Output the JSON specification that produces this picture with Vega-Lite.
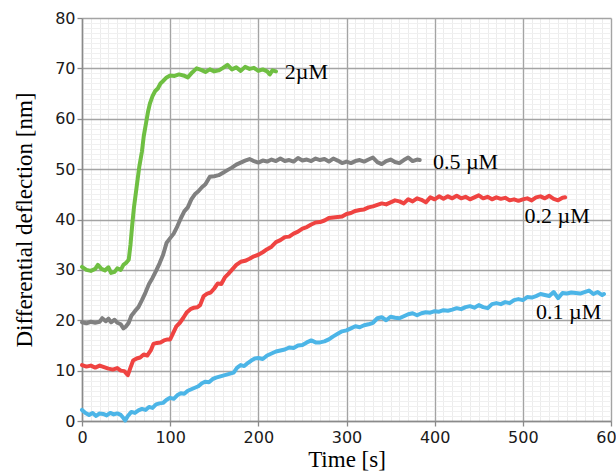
{
  "$schema": "https://vega.github.io/schema/vega-lite/v6.json",
  "width": 529,
  "height": 403,
  "autosize": {"type": "none"},
  "padding": {"left": 82, "top": 18, "right": 5, "bottom": 50},
  "background": "white",
  "config": {"view": {"stroke": null}},
  "datasets": {
    "curves": [
      {"s":"2µM","t":0,"v":30.6},{"s":"2µM","t":5,"v":30.0},{"s":"2µM","t":10,"v":29.8},{"s":"2µM","t":15,"v":30.2},{"s":"2µM","t":18,"v":31.0},{"s":"2µM","t":22,"v":30.2},{"s":"2µM","t":26,"v":29.9},{"s":"2µM","t":30,"v":30.5},{"s":"2µM","t":33,"v":29.4},{"s":"2µM","t":37,"v":29.6},{"s":"2µM","t":40,"v":30.3},{"s":"2µM","t":44,"v":30.0},{"s":"2µM","t":47,"v":31.0},{"s":"2µM","t":50,"v":31.4},{"s":"2µM","t":53,"v":32.0},{"s":"2µM","t":55,"v":35.0},{"s":"2µM","t":57,"v":39.0},{"s":"2µM","t":59,"v":42.5},{"s":"2µM","t":62,"v":46.5},{"s":"2µM","t":65,"v":50.5},{"s":"2µM","t":68,"v":53.5},{"s":"2µM","t":70,"v":56.5},{"s":"2µM","t":73,"v":59.5},{"s":"2µM","t":75,"v":61.5},{"s":"2µM","t":77,"v":63.0},{"s":"2µM","t":80,"v":64.5},{"s":"2µM","t":83,"v":65.5},{"s":"2µM","t":86,"v":66.0},{"s":"2µM","t":89,"v":67.0},{"s":"2µM","t":92,"v":67.5},{"s":"2µM","t":96,"v":68.2},{"s":"2µM","t":100,"v":68.6},{"s":"2µM","t":105,"v":68.5},{"s":"2µM","t":110,"v":68.8},{"s":"2µM","t":115,"v":68.6},{"s":"2µM","t":120,"v":68.2},{"s":"2µM","t":125,"v":69.2},{"s":"2µM","t":130,"v":70.0},{"s":"2µM","t":135,"v":69.7},{"s":"2µM","t":140,"v":69.3},{"s":"2µM","t":145,"v":69.8},{"s":"2µM","t":150,"v":69.4},{"s":"2µM","t":155,"v":69.6},{"s":"2µM","t":160,"v":70.1},{"s":"2µM","t":165,"v":70.7},{"s":"2µM","t":170,"v":69.8},{"s":"2µM","t":175,"v":70.2},{"s":"2µM","t":180,"v":69.5},{"s":"2µM","t":185,"v":70.3},{"s":"2µM","t":190,"v":69.9},{"s":"2µM","t":195,"v":70.1},{"s":"2µM","t":200,"v":69.5},{"s":"2µM","t":205,"v":69.8},{"s":"2µM","t":210,"v":69.4},{"s":"2µM","t":213,"v":68.8},{"s":"2µM","t":216,"v":69.6},{"s":"2µM","t":220,"v":69.4},
      {"s":"0.5 µM","t":0,"v":19.6},{"s":"0.5 µM","t":5,"v":19.4},{"s":"0.5 µM","t":10,"v":19.7},{"s":"0.5 µM","t":15,"v":19.5},{"s":"0.5 µM","t":20,"v":19.7},{"s":"0.5 µM","t":23,"v":20.4},{"s":"0.5 µM","t":27,"v":19.8},{"s":"0.5 µM","t":30,"v":20.3},{"s":"0.5 µM","t":33,"v":19.6},{"s":"0.5 µM","t":37,"v":20.1},{"s":"0.5 µM","t":40,"v":19.5},{"s":"0.5 µM","t":44,"v":19.2},{"s":"0.5 µM","t":47,"v":18.4},{"s":"0.5 µM","t":50,"v":18.8},{"s":"0.5 µM","t":53,"v":19.5},{"s":"0.5 µM","t":56,"v":20.9},{"s":"0.5 µM","t":60,"v":21.8},{"s":"0.5 µM","t":64,"v":22.6},{"s":"0.5 µM","t":68,"v":24.0},{"s":"0.5 µM","t":72,"v":25.5},{"s":"0.5 µM","t":76,"v":27.2},{"s":"0.5 µM","t":80,"v":28.4},{"s":"0.5 µM","t":84,"v":29.8},{"s":"0.5 µM","t":88,"v":31.3},{"s":"0.5 µM","t":92,"v":33.0},{"s":"0.5 µM","t":96,"v":35.4},{"s":"0.5 µM","t":100,"v":36.3},{"s":"0.5 µM","t":104,"v":37.2},{"s":"0.5 µM","t":108,"v":38.6},{"s":"0.5 µM","t":112,"v":40.2},{"s":"0.5 µM","t":116,"v":41.6},{"s":"0.5 µM","t":120,"v":42.4},{"s":"0.5 µM","t":124,"v":44.0},{"s":"0.5 µM","t":128,"v":45.0},{"s":"0.5 µM","t":132,"v":45.6},{"s":"0.5 µM","t":136,"v":46.4},{"s":"0.5 µM","t":140,"v":47.0},{"s":"0.5 µM","t":145,"v":48.5},{"s":"0.5 µM","t":150,"v":48.6},{"s":"0.5 µM","t":155,"v":48.8},{"s":"0.5 µM","t":160,"v":49.3},{"s":"0.5 µM","t":165,"v":49.8},{"s":"0.5 µM","t":170,"v":50.3},{"s":"0.5 µM","t":175,"v":50.9},{"s":"0.5 µM","t":180,"v":51.3},{"s":"0.5 µM","t":185,"v":51.7},{"s":"0.5 µM","t":190,"v":52.0},{"s":"0.5 µM","t":195,"v":51.6},{"s":"0.5 µM","t":200,"v":51.3},{"s":"0.5 µM","t":205,"v":51.7},{"s":"0.5 µM","t":210,"v":51.5},{"s":"0.5 µM","t":215,"v":51.9},{"s":"0.5 µM","t":220,"v":51.6},{"s":"0.5 µM","t":225,"v":52.1},{"s":"0.5 µM","t":230,"v":51.6},{"s":"0.5 µM","t":235,"v":51.8},{"s":"0.5 µM","t":240,"v":51.5},{"s":"0.5 µM","t":245,"v":52.2},{"s":"0.5 µM","t":250,"v":51.7},{"s":"0.5 µM","t":255,"v":51.9},{"s":"0.5 µM","t":260,"v":51.6},{"s":"0.5 µM","t":265,"v":52.1},{"s":"0.5 µM","t":270,"v":51.8},{"s":"0.5 µM","t":275,"v":52.0},{"s":"0.5 µM","t":280,"v":51.5},{"s":"0.5 µM","t":285,"v":52.1},{"s":"0.5 µM","t":290,"v":51.7},{"s":"0.5 µM","t":295,"v":51.2},{"s":"0.5 µM","t":300,"v":51.5},{"s":"0.5 µM","t":305,"v":51.2},{"s":"0.5 µM","t":310,"v":51.6},{"s":"0.5 µM","t":315,"v":51.8},{"s":"0.5 µM","t":320,"v":51.5},{"s":"0.5 µM","t":325,"v":51.9},{"s":"0.5 µM","t":330,"v":52.3},{"s":"0.5 µM","t":335,"v":51.4},{"s":"0.5 µM","t":340,"v":51.0},{"s":"0.5 µM","t":345,"v":51.6},{"s":"0.5 µM","t":350,"v":51.9},{"s":"0.5 µM","t":355,"v":51.4},{"s":"0.5 µM","t":360,"v":51.2},{"s":"0.5 µM","t":365,"v":51.8},{"s":"0.5 µM","t":370,"v":52.3},{"s":"0.5 µM","t":375,"v":51.6},{"s":"0.5 µM","t":380,"v":51.9},{"s":"0.5 µM","t":383,"v":51.8},
      {"s":"0.2 µM","t":0,"v":11.1},{"s":"0.2 µM","t":5,"v":10.8},{"s":"0.2 µM","t":10,"v":11.0},{"s":"0.2 µM","t":15,"v":10.6},{"s":"0.2 µM","t":20,"v":11.0},{"s":"0.2 µM","t":25,"v":10.7},{"s":"0.2 µM","t":30,"v":10.4},{"s":"0.2 µM","t":35,"v":10.2},{"s":"0.2 µM","t":40,"v":10.5},{"s":"0.2 µM","t":44,"v":10.0},{"s":"0.2 µM","t":48,"v":9.9},{"s":"0.2 µM","t":52,"v":9.1},{"s":"0.2 µM","t":55,"v":10.6},{"s":"0.2 µM","t":58,"v":12.0},{"s":"0.2 µM","t":62,"v":12.4},{"s":"0.2 µM","t":66,"v":12.6},{"s":"0.2 µM","t":70,"v":13.2},{"s":"0.2 µM","t":74,"v":13.0},{"s":"0.2 µM","t":78,"v":14.0},{"s":"0.2 µM","t":81,"v":15.3},{"s":"0.2 µM","t":85,"v":15.5},{"s":"0.2 µM","t":89,"v":15.6},{"s":"0.2 µM","t":93,"v":16.0},{"s":"0.2 µM","t":97,"v":16.2},{"s":"0.2 µM","t":100,"v":16.2},{"s":"0.2 µM","t":103,"v":17.3},{"s":"0.2 µM","t":107,"v":18.8},{"s":"0.2 µM","t":111,"v":19.5},{"s":"0.2 µM","t":115,"v":20.5},{"s":"0.2 µM","t":119,"v":21.6},{"s":"0.2 µM","t":123,"v":22.2},{"s":"0.2 µM","t":127,"v":22.5},{"s":"0.2 µM","t":131,"v":22.6},{"s":"0.2 µM","t":134,"v":23.0},{"s":"0.2 µM","t":138,"v":24.8},{"s":"0.2 µM","t":142,"v":25.3},{"s":"0.2 µM","t":146,"v":25.5},{"s":"0.2 µM","t":150,"v":26.3},{"s":"0.2 µM","t":154,"v":27.3},{"s":"0.2 µM","t":158,"v":27.2},{"s":"0.2 µM","t":162,"v":28.5},{"s":"0.2 µM","t":166,"v":29.2},{"s":"0.2 µM","t":170,"v":30.0},{"s":"0.2 µM","t":175,"v":31.0},{"s":"0.2 µM","t":180,"v":31.6},{"s":"0.2 µM","t":185,"v":31.8},{"s":"0.2 µM","t":190,"v":32.2},{"s":"0.2 µM","t":195,"v":32.7},{"s":"0.2 µM","t":200,"v":33.0},{"s":"0.2 µM","t":205,"v":33.5},{"s":"0.2 µM","t":210,"v":34.1},{"s":"0.2 µM","t":215,"v":34.6},{"s":"0.2 µM","t":220,"v":35.5},{"s":"0.2 µM","t":225,"v":35.9},{"s":"0.2 µM","t":230,"v":36.5},{"s":"0.2 µM","t":235,"v":36.6},{"s":"0.2 µM","t":240,"v":37.2},{"s":"0.2 µM","t":245,"v":37.6},{"s":"0.2 µM","t":250,"v":38.2},{"s":"0.2 µM","t":255,"v":38.5},{"s":"0.2 µM","t":260,"v":39.0},{"s":"0.2 µM","t":265,"v":39.4},{"s":"0.2 µM","t":270,"v":39.5},{"s":"0.2 µM","t":275,"v":39.8},{"s":"0.2 µM","t":280,"v":40.3},{"s":"0.2 µM","t":285,"v":40.4},{"s":"0.2 µM","t":290,"v":40.5},{"s":"0.2 µM","t":295,"v":40.6},{"s":"0.2 µM","t":300,"v":41.1},{"s":"0.2 µM","t":305,"v":41.3},{"s":"0.2 µM","t":310,"v":41.7},{"s":"0.2 µM","t":315,"v":41.9},{"s":"0.2 µM","t":320,"v":42.0},{"s":"0.2 µM","t":325,"v":42.4},{"s":"0.2 µM","t":330,"v":42.6},{"s":"0.2 µM","t":335,"v":42.9},{"s":"0.2 µM","t":340,"v":43.2},{"s":"0.2 µM","t":345,"v":43.0},{"s":"0.2 µM","t":350,"v":43.4},{"s":"0.2 µM","t":355,"v":43.8},{"s":"0.2 µM","t":360,"v":43.6},{"s":"0.2 µM","t":365,"v":43.2},{"s":"0.2 µM","t":370,"v":44.0},{"s":"0.2 µM","t":375,"v":43.6},{"s":"0.2 µM","t":380,"v":44.2},{"s":"0.2 µM","t":385,"v":43.9},{"s":"0.2 µM","t":390,"v":43.4},{"s":"0.2 µM","t":395,"v":44.4},{"s":"0.2 µM","t":400,"v":44.0},{"s":"0.2 µM","t":405,"v":44.6},{"s":"0.2 µM","t":410,"v":44.1},{"s":"0.2 µM","t":415,"v":44.6},{"s":"0.2 µM","t":420,"v":44.2},{"s":"0.2 µM","t":425,"v":44.7},{"s":"0.2 µM","t":430,"v":44.2},{"s":"0.2 µM","t":435,"v":44.5},{"s":"0.2 µM","t":440,"v":44.0},{"s":"0.2 µM","t":445,"v":44.4},{"s":"0.2 µM","t":450,"v":44.8},{"s":"0.2 µM","t":455,"v":44.2},{"s":"0.2 µM","t":460,"v":44.5},{"s":"0.2 µM","t":465,"v":44.0},{"s":"0.2 µM","t":470,"v":44.4},{"s":"0.2 µM","t":475,"v":44.1},{"s":"0.2 µM","t":480,"v":44.3},{"s":"0.2 µM","t":485,"v":43.8},{"s":"0.2 µM","t":490,"v":44.0},{"s":"0.2 µM","t":495,"v":43.7},{"s":"0.2 µM","t":500,"v":44.0},{"s":"0.2 µM","t":505,"v":44.2},{"s":"0.2 µM","t":510,"v":43.8},{"s":"0.2 µM","t":515,"v":44.4},{"s":"0.2 µM","t":520,"v":44.6},{"s":"0.2 µM","t":525,"v":44.2},{"s":"0.2 µM","t":530,"v":44.7},{"s":"0.2 µM","t":535,"v":44.1},{"s":"0.2 µM","t":540,"v":43.8},{"s":"0.2 µM","t":545,"v":44.3},{"s":"0.2 µM","t":548,"v":44.4},
      {"s":"0.1 µM","t":0,"v":2.2},{"s":"0.1 µM","t":4,"v":1.6},{"s":"0.1 µM","t":8,"v":1.2},{"s":"0.1 µM","t":12,"v":1.6},{"s":"0.1 µM","t":16,"v":1.0},{"s":"0.1 µM","t":20,"v":1.5},{"s":"0.1 µM","t":24,"v":1.4},{"s":"0.1 µM","t":28,"v":1.1},{"s":"0.1 µM","t":32,"v":1.6},{"s":"0.1 µM","t":36,"v":1.3},{"s":"0.1 µM","t":40,"v":1.5},{"s":"0.1 µM","t":44,"v":1.2},{"s":"0.1 µM","t":47,"v":0.6},{"s":"0.1 µM","t":49,"v":0.1},{"s":"0.1 µM","t":52,"v":1.0},{"s":"0.1 µM","t":56,"v":1.8},{"s":"0.1 µM","t":60,"v":1.6},{"s":"0.1 µM","t":64,"v":2.1},{"s":"0.1 µM","t":68,"v":2.4},{"s":"0.1 µM","t":72,"v":2.2},{"s":"0.1 µM","t":76,"v":2.8},{"s":"0.1 µM","t":80,"v":2.6},{"s":"0.1 µM","t":84,"v":3.3},{"s":"0.1 µM","t":88,"v":3.5},{"s":"0.1 µM","t":92,"v":3.6},{"s":"0.1 µM","t":96,"v":4.2},{"s":"0.1 µM","t":100,"v":4.6},{"s":"0.1 µM","t":104,"v":4.4},{"s":"0.1 µM","t":108,"v":5.1},{"s":"0.1 µM","t":112,"v":5.5},{"s":"0.1 µM","t":116,"v":5.4},{"s":"0.1 µM","t":120,"v":6.0},{"s":"0.1 µM","t":124,"v":6.3},{"s":"0.1 µM","t":128,"v":6.6},{"s":"0.1 µM","t":132,"v":6.9},{"s":"0.1 µM","t":136,"v":7.5},{"s":"0.1 µM","t":140,"v":7.8},{"s":"0.1 µM","t":144,"v":7.7},{"s":"0.1 µM","t":148,"v":8.3},{"s":"0.1 µM","t":152,"v":8.6},{"s":"0.1 µM","t":156,"v":8.8},{"s":"0.1 µM","t":160,"v":9.0},{"s":"0.1 µM","t":164,"v":9.2},{"s":"0.1 µM","t":168,"v":9.4},{"s":"0.1 µM","t":172,"v":9.6},{"s":"0.1 µM","t":176,"v":10.6},{"s":"0.1 µM","t":180,"v":11.1},{"s":"0.1 µM","t":184,"v":10.9},{"s":"0.1 µM","t":188,"v":11.5},{"s":"0.1 µM","t":192,"v":12.0},{"s":"0.1 µM","t":196,"v":12.4},{"s":"0.1 µM","t":200,"v":12.5},{"s":"0.1 µM","t":205,"v":12.3},{"s":"0.1 µM","t":210,"v":13.0},{"s":"0.1 µM","t":215,"v":13.4},{"s":"0.1 µM","t":220,"v":13.8},{"s":"0.1 µM","t":225,"v":14.0},{"s":"0.1 µM","t":230,"v":14.2},{"s":"0.1 µM","t":235,"v":14.6},{"s":"0.1 µM","t":240,"v":14.5},{"s":"0.1 µM","t":245,"v":15.0},{"s":"0.1 µM","t":250,"v":15.1},{"s":"0.1 µM","t":255,"v":15.6},{"s":"0.1 µM","t":260,"v":16.0},{"s":"0.1 µM","t":265,"v":15.6},{"s":"0.1 µM","t":270,"v":15.6},{"s":"0.1 µM","t":275,"v":15.8},{"s":"0.1 µM","t":280,"v":16.2},{"s":"0.1 µM","t":285,"v":16.8},{"s":"0.1 µM","t":290,"v":17.3},{"s":"0.1 µM","t":295,"v":17.8},{"s":"0.1 µM","t":300,"v":18.0},{"s":"0.1 µM","t":305,"v":18.4},{"s":"0.1 µM","t":310,"v":18.8},{"s":"0.1 µM","t":315,"v":18.6},{"s":"0.1 µM","t":320,"v":19.0},{"s":"0.1 µM","t":325,"v":19.2},{"s":"0.1 µM","t":330,"v":19.5},{"s":"0.1 µM","t":335,"v":20.4},{"s":"0.1 µM","t":340,"v":20.6},{"s":"0.1 µM","t":345,"v":20.0},{"s":"0.1 µM","t":350,"v":20.7},{"s":"0.1 µM","t":355,"v":20.5},{"s":"0.1 µM","t":360,"v":20.4},{"s":"0.1 µM","t":365,"v":20.8},{"s":"0.1 µM","t":370,"v":21.2},{"s":"0.1 µM","t":375,"v":21.4},{"s":"0.1 µM","t":380,"v":21.0},{"s":"0.1 µM","t":385,"v":21.4},{"s":"0.1 µM","t":390,"v":21.6},{"s":"0.1 µM","t":395,"v":21.5},{"s":"0.1 µM","t":400,"v":21.8},{"s":"0.1 µM","t":405,"v":21.7},{"s":"0.1 µM","t":410,"v":22.0},{"s":"0.1 µM","t":415,"v":21.9},{"s":"0.1 µM","t":420,"v":22.1},{"s":"0.1 µM","t":425,"v":22.4},{"s":"0.1 µM","t":430,"v":22.2},{"s":"0.1 µM","t":435,"v":22.6},{"s":"0.1 µM","t":440,"v":22.8},{"s":"0.1 µM","t":445,"v":22.5},{"s":"0.1 µM","t":450,"v":23.0},{"s":"0.1 µM","t":455,"v":22.6},{"s":"0.1 µM","t":460,"v":22.4},{"s":"0.1 µM","t":465,"v":23.2},{"s":"0.1 µM","t":470,"v":23.4},{"s":"0.1 µM","t":475,"v":23.2},{"s":"0.1 µM","t":480,"v":23.6},{"s":"0.1 µM","t":485,"v":23.4},{"s":"0.1 µM","t":490,"v":24.0},{"s":"0.1 µM","t":495,"v":24.2},{"s":"0.1 µM","t":500,"v":24.0},{"s":"0.1 µM","t":505,"v":24.6},{"s":"0.1 µM","t":510,"v":24.5},{"s":"0.1 µM","t":515,"v":24.8},{"s":"0.1 µM","t":520,"v":25.2},{"s":"0.1 µM","t":525,"v":25.0},{"s":"0.1 µM","t":530,"v":24.8},{"s":"0.1 µM","t":535,"v":25.6},{"s":"0.1 µM","t":540,"v":24.4},{"s":"0.1 µM","t":545,"v":25.4},{"s":"0.1 µM","t":550,"v":25.3},{"s":"0.1 µM","t":555,"v":25.5},{"s":"0.1 µM","t":560,"v":25.4},{"s":"0.1 µM","t":565,"v":25.3},{"s":"0.1 µM","t":570,"v":25.6},{"s":"0.1 µM","t":575,"v":25.9},{"s":"0.1 µM","t":580,"v":25.2},{"s":"0.1 µM","t":585,"v":25.6},{"s":"0.1 µM","t":590,"v":25.0},{"s":"0.1 µM","t":592,"v":25.2}
    ],
    "labels": [
      {"s":"2µM","t":230,"v":69.3},
      {"s":"0.5 µM","t":398,"v":51.5},
      {"s":"0.2 µM","t":502,"v":40.6},
      {"s":"0.1 µM","t":515,"v":21.6}
    ]
  },
  "layer": [
    {
      "data": {"name": "curves"},
      "mark": {"type": "line", "strokeOpacity": 0},
      "encoding": {
        "x": {
          "field": "t", "type": "quantitative",
          "scale": {"domain": [0, 600], "nice": false, "zero": false},
          "axis": {
            "orient": "bottom",
            "values": [10,20,30,40,50,60,70,80,90,110,120,130,140,150,160,170,180,190,210,220,230,240,250,260,270,280,290,310,320,330,340,350,360,370,380,390,410,420,430,440,450,460,470,480,490,510,520,530,540,550,560,570,580,590],
            "tickCount": 1000,
            "grid": true, "gridColor": "#ececec", "gridWidth": 1,
            "labels": false, "ticks": false, "domain": false, "title": null
          }
        },
        "y": {
          "field": "v", "type": "quantitative",
          "scale": {"domain": [0, 80], "nice": false},
          "axis": {
            "orient": "left",
            "values": [1,2,3,4,5,6,7,8,9,11,12,13,14,15,16,17,18,19,21,22,23,24,25,26,27,28,29,31,32,33,34,35,36,37,38,39,41,42,43,44,45,46,47,48,49,51,52,53,54,55,56,57,58,59,61,62,63,64,65,66,67,68,69,71,72,73,74,75,76,77,78,79],
            "tickCount": 1000,
            "grid": true, "gridColor": "#f0f0f0", "gridWidth": 1,
            "gridDash": [86.17, 2], "gridDashOffset": 87.17,
            "labels": false, "ticks": false, "domain": false, "title": null
          }
        }
      }
    },
    {
      "data": {"name": "curves"},
      "mark": {"type": "line", "strokeWidth": 4, "strokeJoin": "round", "strokeCap": "round"},
      "encoding": {
        "x": {
          "field": "t", "type": "quantitative",
          "axis": {
            "orient": "bottom",
            "values": [0,100,200,300,400,500,600],
            "format": "d",
            "grid": true, "gridColor": "#a4a4a4", "gridWidth": 1.4,
            "tickSize": 5, "tickColor": "#8a8a8a", "tickWidth": 1.3,
            "domainColor": "#8a8a8a", "domainWidth": 1.5,
            "labelFont": "DejaVu Sans", "labelFontSize": 16, "labelColor": "#1a1a1a",
            "labelPadding": 3, "labelFlush": false, "labelOverlap": false,
            "title": "Time [s]", "titleFont": "Liberation Serif", "titleFontSize": 23,
            "titleFontWeight": "normal", "titleColor": "#000000",
            "titleY": 38, "titleBaseline": "middle"
          }
        },
        "y": {
          "field": "v", "type": "quantitative",
          "axis": {
            "orient": "left",
            "values": [0,10,20,30,40,50,60,70,80],
            "format": "d",
            "grid": true, "gridColor": "#a4a4a4", "gridWidth": 1.4,
            "tickSize": 5, "tickColor": "#8a8a8a", "tickWidth": 1.3,
            "domainColor": "#8a8a8a", "domainWidth": 1.5,
            "labelFont": "DejaVu Sans", "labelFontSize": 16, "labelColor": "#1a1a1a",
            "labelPadding": 2, "labelFlush": false, "labelOverlap": false,
            "title": "Differential deflection [nm]", "titleFont": "Liberation Serif", "titleFontSize": 23,
            "titleFontWeight": "normal", "titleColor": "#000000",
            "titleX": -58, "titleBaseline": "middle"
          }
        },
        "color": {
          "field": "s", "type": "nominal",
          "scale": {"domain": ["2µM", "0.5 µM", "0.2 µM", "0.1 µM"], "range": ["#6fbf42", "#808080", "#ef4341", "#4cb5e7"]},
          "legend": null
        }
      }
    },
    {
      "data": {"name": "labels"},
      "mark": {"type": "text", "align": "left", "baseline": "middle", "font": "Liberation Serif", "fontSize": 22, "color": "#000000"},
      "encoding": {
        "x": {"field": "t", "type": "quantitative", "axis": null},
        "y": {"field": "v", "type": "quantitative", "axis": null},
        "text": {"field": "s"}
      }
    }
  ],
  "resolve": {"axis": {"x": "independent", "y": "independent"}}
}
